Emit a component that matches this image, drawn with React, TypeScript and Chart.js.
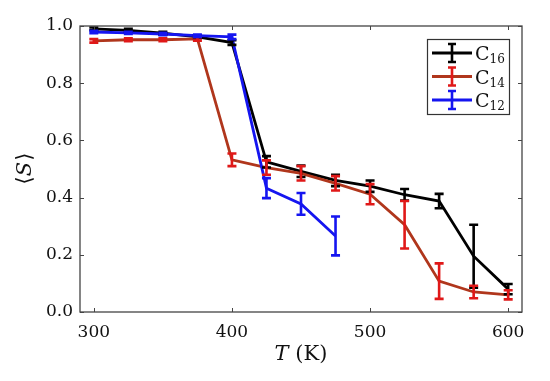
import React, { useEffect, useRef } from "react";
import { Chart, registerables } from "chart.js";

Chart.register(...registerables);

const temps16 = [300, 325, 350, 375, 400, 425, 450, 475, 500, 525, 550, 575, 600];
const s16 = [0.99, 0.985, 0.975, 0.962, 0.942, 0.525, 0.492, 0.46, 0.44, 0.41, 0.388, 0.195, 0.08];
const e16 = [0.005, 0.005, 0.005, 0.005, 0.008, 0.02, 0.02, 0.02, 0.02, 0.02, 0.025, 0.11, 0.018];

const temps14 = [300, 325, 350, 375, 400, 425, 450, 475, 500, 525, 550, 575, 600];
const s14 = [0.948, 0.952, 0.952, 0.955, 0.532, 0.505, 0.485, 0.45, 0.412, 0.305, 0.108, 0.07, 0.06];
const e14 = [0.006, 0.005, 0.005, 0.006, 0.022, 0.025, 0.025, 0.025, 0.035, 0.083, 0.062, 0.022, 0.016];

const temps12 = [300, 325, 350, 375, 400, 425, 450, 475];
const s12 = [0.979, 0.976, 0.972, 0.966, 0.962, 0.433, 0.378, 0.266];
const e12 = [0.004, 0.004, 0.004, 0.004, 0.008, 0.035, 0.038, 0.068];

const xTicks = [300, 400, 500, 600];
const yTicks = [0.0, 0.2, 0.4, 0.6, 0.8, 1.0];

const seriesNames = ["16", "14", "12"];
const lineColors = ["#000000", "#b0361c", "#1515f0"];
const barColors = ["#000000", "#e01818", "#1515f0"];

const FONT = "DejaVu Serif";

const errPlugin = {
  id: "errbars",
  afterDatasetsDraw(chart: any) {
    const ctx = chart.ctx;
    const xs = chart.scales.x;
    const ys = chart.scales.y;
    const sets = [
      [temps16, s16, e16],
      [temps14, s14, e14],
      [temps12, s12, e12],
    ];
    ctx.save();
    ctx.beginPath();
    ctx.rect(chart.chartArea.left, chart.chartArea.top, chart.chartArea.right - chart.chartArea.left, chart.chartArea.bottom - chart.chartArea.top);
    ctx.clip();
    sets.forEach((s: any, i) => {
      const [tx, sv, ev] = s;
      ctx.strokeStyle = barColors[i];
      ctx.lineWidth = 2.6;
      for (let k = 0; k < tx.length; k++) {
        const px = xs.getPixelForValue(tx[k]);
        const pt = ys.getPixelForValue(sv[k] + ev[k]);
        const pb = ys.getPixelForValue(sv[k] - ev[k]);
        ctx.beginPath();
        ctx.moveTo(px, pt);
        ctx.lineTo(px, pb);
        ctx.moveTo(px - 4.5, pt);
        ctx.lineTo(px + 4.5, pt);
        ctx.moveTo(px - 4.5, pb);
        ctx.lineTo(px + 4.5, pb);
        ctx.stroke();
      }
    });
    ctx.restore();
  },
  afterDraw(chart: any) {
    const ctx = chart.ctx;
    const { left, right, top, bottom } = chart.chartArea;
    const xs = chart.scales.x;
    const ys = chart.scales.y;
    ctx.save();
    ctx.strokeStyle = "#444444";
    ctx.lineWidth = 1.3;
    ctx.strokeRect(left, top, right - left, bottom - top);
    ctx.lineWidth = 1;
    ctx.beginPath();
    xTicks.forEach((v) => {
      const px = Math.round(xs.getPixelForValue(v)) + 0.5;
      ctx.moveTo(px, bottom);
      ctx.lineTo(px, bottom - 4);
      ctx.moveTo(px, top);
      ctx.lineTo(px, top + 4);
    });
    yTicks.forEach((v) => {
      const py = Math.round(ys.getPixelForValue(v)) + 0.5;
      ctx.moveTo(left, py);
      ctx.lineTo(left + 4, py);
      ctx.moveTo(right, py);
      ctx.lineTo(right - 4, py);
    });
    ctx.stroke();

    ctx.fillStyle = "#111111";
    ctx.textBaseline = "middle";
    const cx = (left + right) / 2;
    const xy = 355;
    ctx.font = `italic 21px "${FONT}"`;
    const wT = ctx.measureText("T").width;
    ctx.font = `21px "${FONT}"`;
    const wK = ctx.measureText(" (K)").width;
    const sx = cx - (wT + wK) / 2;
    ctx.textAlign = "left";
    ctx.font = `italic 21px "${FONT}"`;
    ctx.fillText("T", sx, xy);
    ctx.font = `21px "${FONT}"`;
    ctx.fillText(" (K)", sx + wT, xy);

    ctx.save();
    ctx.translate(26, (top + bottom) / 2);
    ctx.rotate(-Math.PI / 2);
    ctx.font = `21px "${FONT}"`;
    const wa = ctx.measureText("⟨").width;
    ctx.font = `italic 21px "${FONT}"`;
    const ws = ctx.measureText("S").width;
    ctx.font = `21px "${FONT}"`;
    const wb = ctx.measureText("⟩").width;
    const yx = -(wa + ws + wb) / 2;
    ctx.fillText("⟨", yx, 0);
    ctx.font = `italic 21px "${FONT}"`;
    ctx.fillText("S", yx + wa, 0);
    ctx.font = `21px "${FONT}"`;
    ctx.fillText("⟩", yx + wa + ws + 1, 0);
    ctx.restore();

    const lx = 427, ly = 39, lw = 82, lh = 75;
    ctx.fillStyle = "#ffffff";
    ctx.fillRect(lx, ly, lw, lh);
    ctx.strokeStyle = "#333333";
    ctx.lineWidth = 1.2;
    ctx.strokeRect(lx + 0.5, ly + 0.5, lw, lh);
    seriesNames.forEach((nm, i) => {
      const yy = 53 + i * 23.5;
      ctx.strokeStyle = lineColors[i];
      ctx.lineWidth = 2.8;
      ctx.beginPath();
      ctx.moveTo(432, yy);
      ctx.lineTo(472, yy);
      ctx.stroke();
      ctx.strokeStyle = barColors[i];
      ctx.lineWidth = 2.6;
      ctx.beginPath();
      ctx.moveTo(452, yy - 9);
      ctx.lineTo(452, yy + 9);
      ctx.moveTo(448, yy - 9);
      ctx.lineTo(456, yy - 9);
      ctx.moveTo(448, yy + 9);
      ctx.lineTo(456, yy + 9);
      ctx.stroke();
      ctx.fillStyle = "#111111";
      ctx.textAlign = "left";
      ctx.textBaseline = "alphabetic";
      ctx.font = `19px "${FONT}"`;
      ctx.fillText("C", 475, yy + 7);
      const wc = ctx.measureText("C").width;
      ctx.font = `12px "${FONT}"`;
      ctx.fillText(nm, 475 + wc, yy + 10);
    });
    ctx.restore();
  },
};

export default function App() {
  const ref = useRef<HTMLCanvasElement | null>(null);
  useEffect(() => {
    if (!ref.current) return;
    let chart: any = null;
    let dead = false;
    const build = () => {
      if (dead || !ref.current) return;
      const mk = (t: number[], s: number[]) => t.map((x, i) => ({ x, y: s[i] }));
      chart = new Chart(ref.current, {
        type: "line",
        data: {
          datasets: [
            { label: "C16", data: mk(temps16, s16), borderColor: lineColors[0], borderWidth: 2.8, pointRadius: 0, order: 3 },
            { label: "C14", data: mk(temps14, s14), borderColor: lineColors[1], borderWidth: 2.8, pointRadius: 0, order: 2 },
            { label: "C12", data: mk(temps12, s12), borderColor: lineColors[2], borderWidth: 2.8, pointRadius: 0, order: 1 },
          ],
        },
        options: {
          responsive: false,
          animation: false,
          layout: { padding: { top: 26, right: 28, left: 0, bottom: 0 } },
          plugins: { legend: { display: false }, tooltip: { enabled: false } },
          scales: {
            x: {
              type: "linear",
              min: 290,
              max: 610,
              grid: { display: false, drawTicks: false },
              border: { display: false },
              afterBuildTicks: (sc: any) => {
                sc.ticks = xTicks.map((v) => ({ value: v }));
              },
              afterFit: (sc: any) => {
                sc.height = 69;
              },
              ticks: {
                color: "#111111",
                font: { family: FONT, size: 17 },
                padding: 10,
                maxRotation: 0,
                callback: (v: any) => String(v),
              },
            },
            y: {
              type: "linear",
              min: 0,
              max: 1,
              grid: { display: false, drawTicks: false },
              border: { display: false },
              afterBuildTicks: (sc: any) => {
                sc.ticks = yTicks.map((v) => ({ value: v }));
              },
              afterFit: (sc: any) => {
                sc.width = 80;
              },
              ticks: {
                color: "#111111",
                font: { family: FONT, size: 17 },
                padding: 7,
                callback: (v: any) => Number(v).toFixed(1),
              },
            },
          },
        },
        plugins: [errPlugin],
      });
    };
    const fl: any = (document as any).fonts;
    if (fl && fl.load) {
      Promise.all([
        fl.load(`17px "${FONT}"`),
        fl.load(`italic 21px "${FONT}"`),
      ]).then(build, build);
    } else {
      build();
    }
    return () => {
      dead = true;
      if (chart) chart.destroy();
    };
  }, []);
  return (
    <div style={{ position: "absolute", left: 0, top: 0, width: 550, height: 381, background: "#ffffff" }}>
      <canvas ref={ref} width={550} height={381} />
    </div>
  );
}
